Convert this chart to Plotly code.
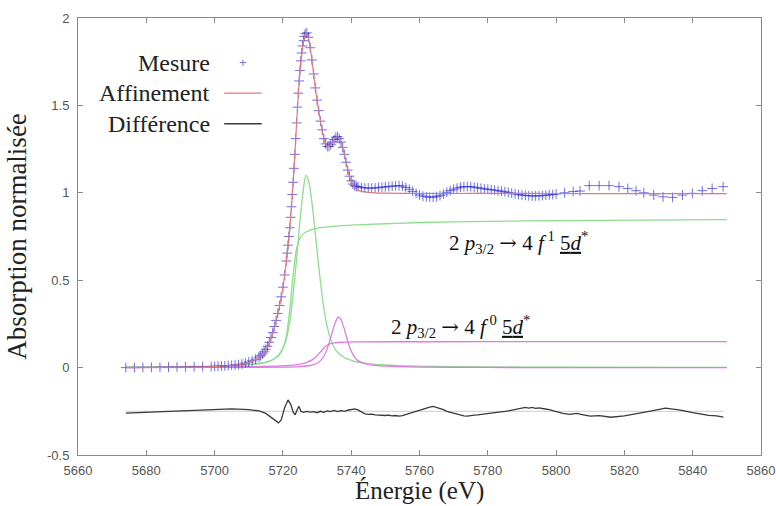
import plotly.graph_objects as go

# ---------------- data ----------------
meas_E = [5674, 5676.5, 5679, 5681.5, 5684, 5686.5, 5689, 5691.5, 5694, 5696.5,
          5699, 5700, 5701, 5702, 5703, 5704, 5705, 5706, 5707, 5708, 5709, 5710, 5711, 5712, 5713,
          5713.5, 5714, 5714.5, 5715, 5715.5, 5716, 5716.5, 5717, 5717.5, 5718, 5718.5, 5719, 5719.5, 5720, 5720.5, 5721,
          5721.25, 5721.5, 5721.75, 5722, 5722.25, 5722.5, 5722.75, 5723, 5723.25, 5723.5, 5723.75,
          5724, 5724.25, 5724.5, 5724.75, 5725, 5725.25, 5725.5, 5725.75, 5726, 5726.25, 5726.5,
          5727, 5727.5, 5728, 5728.5, 5729, 5729.5, 5730, 5730.5, 5731, 5731.5,
          5732, 5732.5, 5733, 5733.5, 5734, 5734.5, 5735, 5735.5, 5736, 5736.5,
          5737, 5737.5, 5738, 5738.5, 5739, 5739.5, 5740, 5740.5, 5741, 5741.5,
          5742, 5743, 5744, 5745, 5746, 5747, 5748, 5749, 5750, 5751,
          5752, 5753, 5754, 5755, 5756, 5757, 5758, 5759, 5760, 5761,
          5762, 5763, 5764, 5765, 5766, 5767, 5768, 5769, 5770, 5771,
          5772, 5773, 5774, 5775, 5776, 5777, 5778, 5779, 5780, 5781,
          5782, 5783, 5784, 5785, 5786, 5787, 5788, 5789, 5790, 5791,
          5792, 5793, 5794, 5795, 5796, 5797, 5798, 5799, 5800,
          5802.5, 5805, 5807, 5809.7, 5812.6, 5815.5, 5818.4, 5821, 5823.4, 5825.7,
          5828.6, 5831.3, 5834.1, 5837, 5839.9, 5842.8, 5845.7, 5848.9]
meas_A = [0.0, 0.0, 0.001, 0.001, 0.002, 0.003, 0.003, 0.004, 0.005, 0.006,
          0.006, 0.007, 0.008, 0.009, 0.010, 0.012, 0.013, 0.015, 0.017, 0.021, 0.026, 0.032, 0.039, 0.048, 0.060,
          0.068, 0.078, 0.090, 0.105, 0.122, 0.145, 0.172, 0.200, 0.235, 0.270, 0.310, 0.355, 0.405, 0.460, 0.530, 0.610,
          0.655, 0.700, 0.750, 0.800, 0.860, 0.920, 0.990, 1.060, 1.140, 1.220, 1.310,
          1.400, 1.490, 1.570, 1.640, 1.700, 1.755, 1.800, 1.840, 1.870, 1.895, 1.910,
          1.915, 1.890, 1.830, 1.760, 1.680, 1.600, 1.530, 1.470, 1.410, 1.360,
          1.310, 1.280, 1.265, 1.265, 1.275, 1.290, 1.305, 1.318, 1.322, 1.310,
          1.290, 1.260, 1.220, 1.175, 1.130, 1.095, 1.068, 1.050, 1.040, 1.036,
          1.035, 1.030, 1.028, 1.027, 1.027, 1.028, 1.030, 1.032, 1.034, 1.036,
          1.038, 1.040, 1.041, 1.038, 1.030, 1.020, 1.008, 0.997, 0.988, 0.981,
          0.977, 0.975, 0.975, 0.978, 0.984, 0.993, 1.003, 1.012, 1.020, 1.027,
          1.032, 1.035, 1.036, 1.035, 1.032, 1.029, 1.026, 1.023, 1.020, 1.018,
          1.015, 1.012, 1.009, 1.006, 1.002, 0.998, 0.994, 0.990, 0.987, 0.985,
          0.983, 0.982, 0.982, 0.983, 0.984, 0.986, 0.988, 0.990, 0.993,
          1.000, 1.007, 1.010, 1.041, 1.041, 1.041, 1.035, 1.025, 1.012, 1.000,
          0.987, 0.977, 0.974, 0.987, 0.997, 1.012, 1.025, 1.035]

fit_E = [5674, 5690, 5700, 5705, 5708, 5710, 5712, 5714, 5715, 5716,
         5717, 5718, 5719, 5720, 5721, 5722, 5723, 5724, 5725, 5726,
         5726.8, 5727.5, 5728, 5729, 5730, 5731, 5732, 5733, 5734, 5735,
         5735.8, 5736.5, 5737, 5738, 5739, 5740, 5741, 5742, 5744, 5747,
         5750, 5760, 5770, 5780, 5800, 5820, 5850]
fit_A = [0.0, 0.002, 0.006, 0.012, 0.019, 0.028, 0.045, 0.075, 0.100, 0.140,
         0.195, 0.265, 0.350, 0.455, 0.605, 0.795, 1.055, 1.395, 1.695, 1.865,
         1.915, 1.885, 1.830, 1.680, 1.530, 1.410, 1.310, 1.265, 1.275, 1.305,
         1.320, 1.310, 1.290, 1.220, 1.130, 1.065, 1.030, 1.015, 1.005, 1.000,
         0.998, 0.996, 0.996, 0.997, 0.996, 0.995, 0.995]

green_step_E = [5674, 5690, 5700, 5705, 5710, 5713, 5715, 5717, 5718, 5719,
                5720, 5721, 5722, 5723, 5724, 5725, 5726, 5728, 5730, 5735,
                5740, 5750, 5760, 5780, 5800, 5825, 5850]
green_step_A = [0.004, 0.006, 0.009, 0.012, 0.018, 0.025, 0.032, 0.045, 0.056, 0.075,
                0.110, 0.180, 0.330, 0.530, 0.680, 0.740, 0.765, 0.787, 0.797, 0.808,
                0.815, 0.823, 0.830, 0.837, 0.841, 0.844, 0.846]

green_peak_E = [5674, 5690, 5700, 5705, 5710, 5713, 5715, 5717, 5718, 5719,
                5720, 5721, 5722, 5723, 5724, 5725, 5726, 5726.7, 5727.5, 5728,
                5729, 5730, 5731, 5732, 5733, 5734, 5735, 5736, 5738, 5740,
                5742, 5745, 5750, 5760, 5780, 5800, 5850]
green_peak_A = [0.001, 0.003, 0.006, 0.009, 0.015, 0.022, 0.030, 0.045, 0.058, 0.078,
                0.110, 0.165, 0.260, 0.420, 0.620, 0.840, 1.020, 1.100, 1.070, 1.020,
                0.860, 0.670, 0.490, 0.340, 0.230, 0.160, 0.115, 0.088, 0.058, 0.042,
                0.032, 0.023, 0.015, 0.008, 0.004, 0.002, 0.001]

pink_peak_E = [5674, 5700, 5720, 5725, 5728, 5730, 5731, 5732, 5733, 5734,
               5735, 5736, 5736.3, 5737, 5738, 5739, 5740, 5741, 5742, 5744,
               5746, 5750, 5760, 5780, 5800, 5850]
pink_peak_A = [0.0, 0.001, 0.003, 0.006, 0.012, 0.025, 0.040, 0.065, 0.110, 0.170,
               0.240, 0.285, 0.290, 0.275, 0.220, 0.150, 0.095, 0.060, 0.040, 0.022,
               0.014, 0.008, 0.003, 0.001, 0.0, 0.0]

pink_step_E = [5674, 5700, 5710, 5718, 5722, 5725, 5727, 5729, 5730, 5731,
               5732, 5733, 5734, 5735, 5737, 5740, 5760, 5800, 5850]
pink_step_A = [0.001, 0.003, 0.005, 0.009, 0.013, 0.020, 0.030, 0.050, 0.068, 0.090,
               0.112, 0.128, 0.137, 0.142, 0.145, 0.147, 0.148, 0.149, 0.149]

diff_E = [5674, 5680, 5690, 5700, 5705, 5710, 5713, 5715, 5717, 5718.7,
          5719.5, 5720.5, 5721.5, 5722.3, 5723, 5723.6, 5724.2, 5724.7, 5725.3, 5726,
          5727, 5728, 5729, 5730, 5731, 5732, 5733, 5734, 5735, 5736,
          5737, 5738, 5739, 5740, 5741, 5742, 5743, 5744, 5745, 5746,
          5747, 5748, 5749, 5750, 5751, 5752, 5753, 5754, 5755, 5756,
          5757, 5758, 5759, 5760, 5761, 5762, 5763, 5764, 5765, 5766,
          5767, 5768, 5769, 5770, 5771, 5772, 5773, 5774, 5775, 5776,
          5777, 5778, 5779, 5780, 5781, 5782, 5783, 5784, 5785, 5786,
          5787, 5788, 5789, 5790, 5791, 5792, 5793, 5794, 5795, 5796,
          5797, 5798, 5799, 5800, 5802, 5804, 5806, 5808, 5810, 5812.7,
          5816, 5820, 5824, 5828, 5832, 5836, 5840, 5844.7, 5847, 5849]
diff_A = [-0.260, -0.256, -0.248, -0.240, -0.236, -0.240, -0.248, -0.262, -0.290, -0.316,
          -0.300, -0.230, -0.185, -0.210, -0.255, -0.270, -0.240, -0.222, -0.250, -0.256,
          -0.250, -0.255, -0.252, -0.258, -0.250, -0.256, -0.248, -0.252, -0.245, -0.252,
          -0.246, -0.250, -0.244, -0.240, -0.236, -0.242, -0.255, -0.265, -0.268, -0.266,
          -0.270, -0.272, -0.270, -0.274, -0.272, -0.276, -0.274, -0.278, -0.275, -0.270,
          -0.264, -0.256, -0.250, -0.243, -0.238, -0.232, -0.226, -0.222, -0.228, -0.230,
          -0.240, -0.250, -0.256, -0.262, -0.268, -0.272, -0.276, -0.278, -0.277, -0.272,
          -0.270, -0.268, -0.265, -0.263, -0.262, -0.258, -0.256, -0.252, -0.250, -0.247,
          -0.244, -0.241, -0.238, -0.232, -0.228, -0.232, -0.228, -0.233, -0.230, -0.234,
          -0.236, -0.240, -0.246, -0.252, -0.262, -0.268, -0.262, -0.270, -0.278, -0.275,
          -0.284, -0.276, -0.263, -0.248, -0.232, -0.242, -0.258, -0.273, -0.276, -0.283]

diff_zero_E = [5674, 5849]
diff_zero_A = [-0.25, -0.25]

x_ticks = [5660, 5680, 5700, 5720, 5740, 5760, 5780, 5800, 5820, 5840, 5860]
y_ticks = [-0.5, 0, 0.5, 1, 1.5, 2]
y_tick_text = ["-0.5", "0", "0.5", "1", "1.5", "2"]

x_title = "Énergie (eV)"
y_title = "Absorption normalisée"
legend_labels = ["Mesure", "Affinement", "Différence"]
ARROW = '<span style="font-family:DejaVu Serif">→</span>'
label_1 = "2 <i>p</i><sub>3/2</sub> " + ARROW + " 4 <i>f</i><sup> 1</sup> <u>5<i>d</i></u><sup>*</sup>"
label_0 = "2 <i>p</i><sub>3/2</sub> " + ARROW + " 4 <i>f</i><sup> 0</sup> <u>5<i>d</i></u><sup>*</sup>"

assert len(meas_E) == len(meas_A)
assert len(diff_E) == len(diff_A)

# ---------------- styles ----------------
BLUE = "rgba(50,50,215,0.7)"
RED = "#e07a7a"
GREEN = "#8fdc8f"
PINK = "#e07ae0"
DARK = "#3a3a3a"
SERIF = "Liberation Serif"
SANS = "Liberation Sans"

fig = go.Figure()

for E, A, col in [(green_step_E, green_step_A, GREEN), (green_peak_E, green_peak_A, GREEN),
                  (pink_step_E, pink_step_A, PINK), (pink_peak_E, pink_peak_A, PINK)]:
    fig.add_trace(go.Scatter(x=E, y=A, mode="lines", line=dict(color=col, width=1.3, shape="spline", smoothing=0.7),
                             showlegend=False, hoverinfo="skip"))

fig.add_trace(go.Scatter(x=diff_zero_E, y=diff_zero_A, mode="lines", line=dict(color="#cccccc", width=1),
                         showlegend=False))
fig.add_trace(go.Scatter(x=diff_E, y=diff_A, mode="lines", line=dict(color=DARK, width=1.3),
                         showlegend=False, name=legend_labels[2]))
fig.add_trace(go.Scatter(x=meas_E, y=meas_A, mode="markers",
                         marker=dict(symbol="cross-thin", size=7, line=dict(color=BLUE, width=1)),
                         showlegend=False, name=legend_labels[0]))
fig.add_trace(go.Scatter(x=fit_E, y=fit_A, mode="lines", line=dict(color=RED, width=1.2, shape="spline", smoothing=0.6),
                         showlegend=False, name=legend_labels[1]))

# custom legend (text right-aligned, symbol at right)
leg_y = [0.898, 0.828, 0.758]
for lab, yy in zip(legend_labels, leg_y):
    fig.add_annotation(x=0.196, y=yy, xref="paper", yref="paper", text=lab, showarrow=False,
                       xanchor="right", yanchor="middle", font=dict(family=SERIF, size=24, color="#222"))
fig.add_annotation(x=0.241, y=leg_y[0], xref="paper", yref="paper", text="+", showarrow=False,
                   xanchor="center", yanchor="middle", font=dict(family=SANS, size=13, color=BLUE))
fig.add_shape(type="line", xref="paper", yref="paper", x0=0.214, x1=0.269, y0=leg_y[1], y1=leg_y[1],
              line=dict(color=RED, width=1.2))
fig.add_shape(type="line", xref="paper", yref="paper", x0=0.214, x1=0.269, y0=leg_y[2], y1=leg_y[2],
              line=dict(color=DARK, width=1.4))

fig.add_annotation(x=5768.0, y=0.713, text=label_1, showarrow=False, xanchor="left", yanchor="middle",
                   font=dict(family=SERIF, size=21, color="#111"))
fig.add_annotation(x=5751.0, y=0.238, text=label_0, showarrow=False, xanchor="left", yanchor="middle",
                   font=dict(family=SERIF, size=21, color="#111"))

# x-axis title placed as a centred annotation just below the tick labels
fig.add_annotation(x=0.5, y=-0.0824, xref="paper", yref="paper", text=x_title, showarrow=False,
                   xanchor="center", yanchor="middle", font=dict(family=SERIF, size=25, color="#222"))

axis_common = dict(showgrid=False, zeroline=False, showline=True, linecolor="#8a8a8a", linewidth=1,
                   mirror="ticks", ticks="inside", ticklen=5, tickcolor="#8a8a8a", automargin=False,
                   tickfont=dict(family=SANS, size=13, color="#555"))

fig.update_layout(
    width=776, height=506, margin=dict(l=78, r=15, t=18, b=51),
    paper_bgcolor="white", plot_bgcolor="white", showlegend=False,
    xaxis=dict(range=[5660, 5860], tickvals=x_ticks, ticklabelstandoff=3, **axis_common),
    yaxis=dict(range=[-0.5, 2], tickvals=y_ticks, ticktext=y_tick_text, ticklabelstandoff=5,
               title=dict(text=y_title, font=dict(family=SERIF, size=27, color="#222"), standoff=12),
               **axis_common),
)

# the page is shown without the browser's default 8px body margin
fig.write_html("out.html", config={"displayModeBar": False},
               post_script="document.body.style.margin='0';")
